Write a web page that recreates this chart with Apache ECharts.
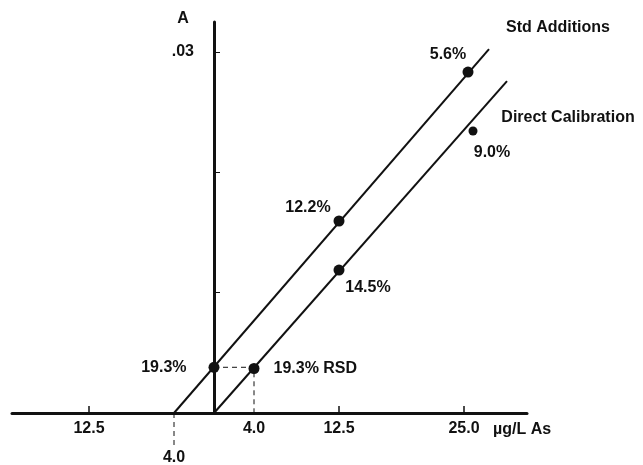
<!DOCTYPE html>
<html>
<head>
<meta charset="utf-8">
<script src="https://cdn.jsdelivr.net/npm/echarts@6/dist/echarts.min.js"></script>
<style>
html,body{margin:0;padding:0;background:#fff;}
#c{width:643px;height:465px;}
</style>
</head>
<body>
<div id="c"></div>
<script>
// ---- data ----
var xTickValues = [-12.5, 12.5, 25];
var xLabelValues = [-12.5, 4, 12.5, 25];
var yTickValues = [0.01, 0.02, 0.03];
var yLabelValues = [0.03];
var stdLine = [[-4, 0], [27.5, 0.03025]];
var directLine = [[0, 0], [29.3, 0.02759]];
var stdPoints = [[0, 0.0038], [12.5, 0.01596], [25.4, 0.02834]];
var stdLabels = ['19.3%', '12.2%', '5.6%'];
var directPoints = [[4, 0.0037], [12.5, 0.01188], [25.9, 0.02344]];
var directLabels = ['19.3% RSD', '14.5%', '9.0%'];
var dropLine = [[0, 0.0038], [4, 0.0038], [4, 0]];
var interceptLine = [[-4, 0], [-4, -0.0027]];
var interceptLabel = '4.0';

var FONT = 'Liberation Sans';
var FS = 16;
var txt = {fontFamily: FONT, fontWeight: 'bold', fontSize: FS, color: '#111'};

function lbl(extra){ return Object.assign({show:true}, txt, extra); }

var stdLabelCfg = [
  {position:'left', distance:22},
  {position:'inside', offset:[-31,-13]},
  {position:'inside', offset:[-20,-17]}
];
var directLabelCfg = [
  {position:'right', distance:14},
  {position:'inside', offset:[29,18]},
  {position:'inside', offset:[19,22]}
];

var chart = echarts.init(document.getElementById('c'), null, {renderer:'canvas'});
chart.setOption({
  animation:false,
  backgroundColor:'#fff',
  grid:{left:12, width:515, top:22, bottom:52, containLabel:false, outerBoundsMode:'none'},
  xAxis:{
    type:'value', min:-20.2, max:31.3,
    splitLine:{show:false},
    axisLine:{show:true, onZero:true, lineStyle:{color:'#111', width:3}},
    axisTick:{show:true, inside:true, length:7, customValues:xTickValues, lineStyle:{color:'#111', width:1.5}},
    axisLabel:{customValues:xLabelValues, margin:8, fontFamily:FONT, fontWeight:'bold', fontSize:FS, color:'#111',
      formatter:function(v){return Math.abs(v).toFixed(1);}},
    name:'\u00b5g/L As', nameLocation:'end', nameGap:-34,
    nameTextStyle:{fontFamily:FONT, fontWeight:'bold', fontSize:FS, color:'#111', align:'left', verticalAlign:'top', padding:[9,0,0,0]}
  },
  yAxis:{
    type:'value', min:0, max:0.0325,
    splitLine:{show:false},
    axisLine:{show:true, onZero:true, lineStyle:{color:'#111', width:3}},
    axisTick:{show:true, inside:true, length:6, customValues:yTickValues, lineStyle:{color:'#111', width:1}},
    axisLabel:{customValues:yLabelValues, margin:-182, fontFamily:FONT, fontWeight:'bold', fontSize:FS, color:'#111',
      formatter:function(v){return '.' + Math.round(v*100).toString().padStart(2,'0');}},
    name:'A', nameLocation:'end', nameGap:-5,
    nameTextStyle:{fontFamily:FONT, fontWeight:'bold', fontSize:FS, color:'#111', align:'center', padding:[0,62,0,0]}
  },
  series:[
    {type:'line', name:'Std Additions', data:stdLine, symbol:'none', lineStyle:{color:'#111', width:2}, z:3,
      markPoint:{symbol:'circle', symbolSize:0, data:[{coord:stdLine[stdLine.length-1], value:'Std Additions'}],
        label:lbl({position:'inside', offset:[69,-21], formatter:'{c}'})}},
    {type:'line', name:'Direct Calibration', data:directLine, symbol:'none', lineStyle:{color:'#111', width:2}, z:3,
      markPoint:{symbol:'circle', symbolSize:0, data:[{coord:directLine[directLine.length-1], value:'Direct Calibration'}],
        label:lbl({position:'inside', offset:[61,37], formatter:'{c}'})}},
    {type:'line', data:dropLine, symbol:'none', lineStyle:{color:'#111', width:1, type:[5,4]}, z:2},
    {type:'line', data:interceptLine, symbol:'none', clip:false, lineStyle:{color:'#111', width:1, type:[5,4]}, z:2,
      markPoint:{symbol:'circle', symbolSize:0, data:[{coord:interceptLine[0], value:interceptLabel}],
        label:lbl({position:'inside', offset:[0,45], formatter:'{c}'})}},
    {type:'scatter', symbol:'circle', symbolSize:11, itemStyle:{color:'#111', opacity:1}, z:5,
      data:stdPoints.map(function(p,i){return {value:p, label:lbl(Object.assign({formatter:stdLabels[i]}, stdLabelCfg[i]))};})},
    {type:'scatter', symbol:'circle', symbolSize:11, itemStyle:{color:'#111', opacity:1}, z:5,
      data:directPoints.map(function(p,i){return {value:p, symbolSize:(i===2?9:11), label:lbl(Object.assign({formatter:directLabels[i]}, directLabelCfg[i]))};})}
  ]
});
</script>
</body>
</html>
